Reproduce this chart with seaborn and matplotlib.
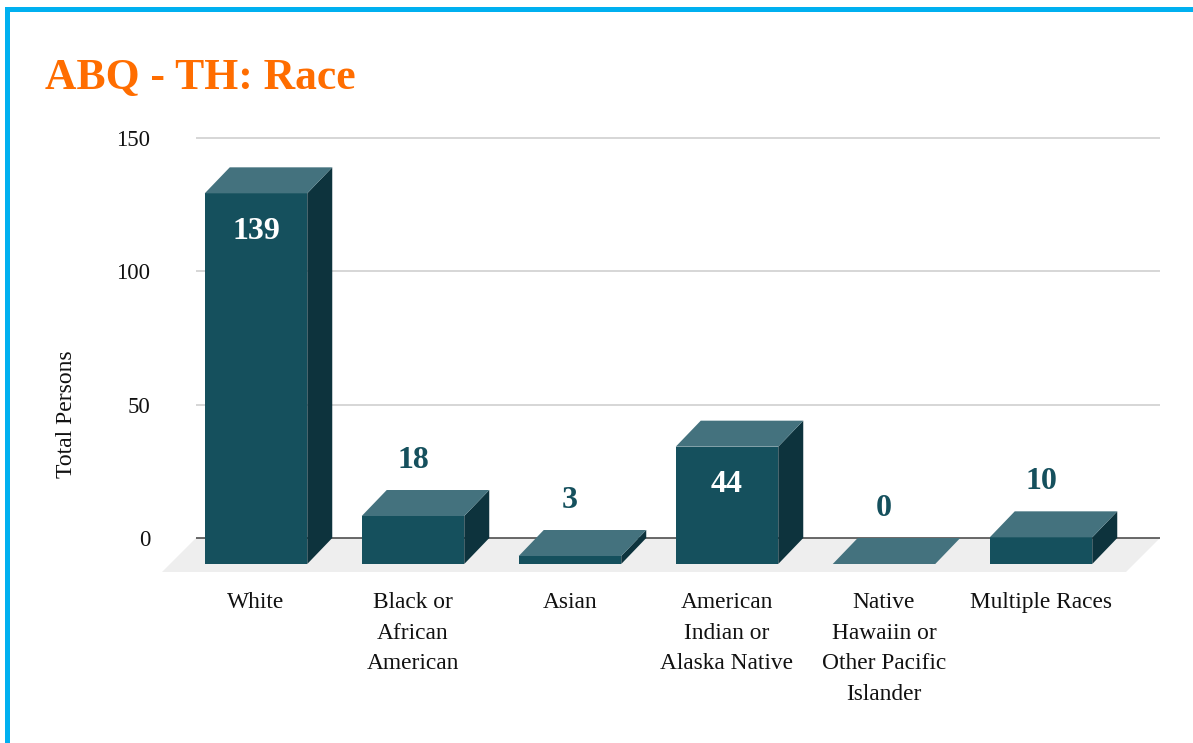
# Race breakdown chart with fake 3D bars
from matplotlib import pyplot as plt
from matplotlib.patches import Polygon, Rectangle
import pandas as pd
import seaborn as sns

categories = ['White', 'Black or\nAfrican\nAmerican', 'Asian',
              'American\nIndian or\nAlaska Native',
              'Native\nHawaiin or\nOther Pacific\nIslander', 'Multiple Races']
persons = [139, 18, 3, 44, 0, 10]
y_ticks = [0, 50, 100, 150]

W, H = 1193, 743
PX_Y = 400 / 150      # pixels per person
PX_X = 157            # pixels per category
DEPTH_X = 25 / PX_X
DEPTH_Y = 26 / PX_Y

FRONT = '#15505d'
SIDE = '#0d333d'
TOP = '#44727e'
BLUE = '#00b0f0'
ORANGE = '#ff6d00'

sns.set_theme(style='white')
plt.rcParams['font.family'] = ['Liberation Serif', 'DejaVu Serif']

df = pd.DataFrame({'race': categories, 'persons': persons})

f = plt.figure(figsize=(W / 100, H / 100), dpi=100)
ax = f.add_axes([162 / W, 1 - 572 / H, (1160 - 162) / W, (572 - 130) / H])
ax = sns.barplot(data=df, x='race', y='persons', color=FRONT, saturation=1,
                 width=102.5 / PX_X, zorder=3, linewidth=0, ax=ax)
ax.set_xlim((162 - 256) / PX_X, (1160 - 256) / PX_X)
ax.set_ylim(-8 / PX_Y, (564 - 130) / PX_Y)
sns.despine(ax=ax, left=True, bottom=True)

# floor and grid sit one depth step behind the front of the bars
x_left, x_right = ax.get_xlim()
back_left = x_left + (196 - 162) / PX_X
floor_right = x_right - (1160 - 1126) / PX_X
ax.add_patch(Polygon([(x_left, -8 / PX_Y), (floor_right, -8 / PX_Y),
                      (x_right, DEPTH_Y), (back_left, DEPTH_Y)],
                     facecolor='#eeeeee', edgecolor='none', zorder=0.5))
for t in y_ticks:
    ax.hlines(t + DEPTH_Y, back_left, x_right, zorder=1.5 if t == 0 else 1,
              color='#404040' if t == 0 else '#cccccc', linewidth=1.1)

# side and top faces come from the bars seaborn drew
for bar in ax.patches[:]:
    if not isinstance(bar, Rectangle):
        continue
    x0, x1 = bar.get_x(), bar.get_x() + bar.get_width()
    y1 = bar.get_height()
    ax.add_patch(Polygon([(x1, 0), (x1 + DEPTH_X, DEPTH_Y),
                          (x1 + DEPTH_X, y1 + DEPTH_Y), (x1, y1)],
                         facecolor=SIDE, edgecolor='none', zorder=3))
    ax.add_patch(Polygon([(x0, y1), (x1, y1), (x1 + DEPTH_X, y1 + DEPTH_Y),
                          (x0 + DEPTH_X, y1 + DEPTH_Y)],
                         facecolor=TOP, edgecolor='none', zorder=3))

# value labels, inside the tall bars and above the short ones
for i, v in enumerate(persons):
    inside = v > 40
    ax.text(i, v + (-38 if inside else 56) / PX_Y, str(v), ha='center',
            va='center', fontsize=23, fontweight='bold', zorder=5,
            color='white' if inside else FRONT)

ax.set_xlabel('')
ax.set_ylabel('')
ax.set_yticks([t + DEPTH_Y for t in y_ticks], [str(t) for t in y_ticks])
ax.tick_params(axis='y', length=0, pad=8.5, labelsize=16.5, labelcolor='#111111')
ax.tick_params(axis='x', length=0, pad=14.6, labelsize=16.8, labelcolor='#111111')
for label in ax.get_xticklabels():
    label.set_linespacing(1.59)

f.text(66 / W, 1 - 414 / H, 'Total Persons', rotation=90, ha='center',
       va='center', fontsize=17, color='#111111')
f.text(45 / W, 1 - 88.5 / H, 'ABQ - TH: Race', ha='left', va='baseline',
       fontsize=31.4, fontweight='bold', color=ORANGE)

# card border
f.add_artist(Rectangle((5 / W, 0), 5 / W, 1 - 7 / H, transform=f.transFigure,
                       facecolor=BLUE, edgecolor='none'))
f.add_artist(Rectangle((5 / W, 1 - 12 / H), 1 - 5 / W, 5 / H, transform=f.transFigure,
                       facecolor=BLUE, edgecolor='none'))

f.savefig('out.png', dpi=100)
